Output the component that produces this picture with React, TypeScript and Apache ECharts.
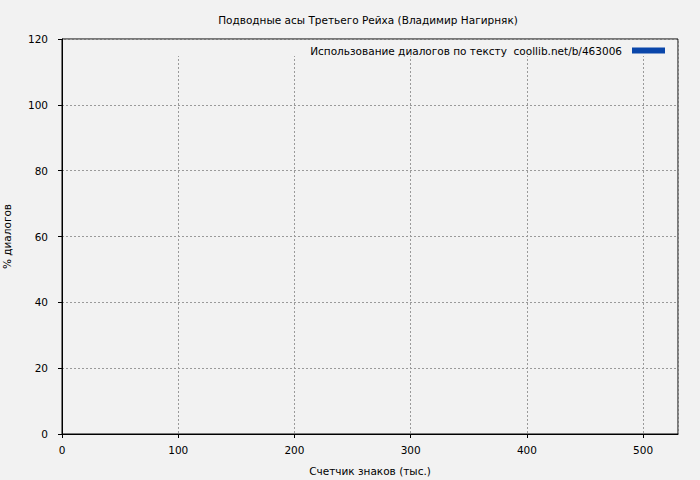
import React, { useEffect, useRef } from 'react';
import * as echarts from 'echarts';

const chartTitle = 'Подводные асы Третьего Рейха (Владимир Нагирняк)';
const seriesName = 'Использование диалогов по тексту  coollib.net/b/463006';
const xAxisName = 'Счетчик знаков (тыс.)';
const yAxisName = '% диалогов';

// x range (тыс. знаков) and y range (%)
const xRange = [0, 530];
const yRange = [0, 120];
// the reference plots no points at all
const dialogShare: [number, number][] = [];

const App: React.FC = () => {
  const chartRef = useRef<HTMLDivElement>(null);

  useEffect(() => {
    if (!chartRef.current) return;
    const chart = echarts.init(chartRef.current, undefined, { renderer: 'svg' });

    const font = 'DejaVu Sans';
    const fs = 10.5;
    const gridLine = { show: true, lineStyle: { color: '#9a9a9a', type: [2, 2] as number[], width: 1 } };

    const option: echarts.EChartsOption = {
      animation: false,
      backgroundColor: '#f2f2f2',
      textStyle: { fontFamily: font },
      title: {
        text: chartTitle,
        left: 363,
        top: 9,
        textAlign: 'center',
        textStyle: { fontSize: fs, fontWeight: 'normal', color: '#000', fontFamily: font }
      },
      legend: {
        right: 30,
        top: 40,
        align: 'right',
        icon: 'rect',
        itemWidth: 33,
        itemHeight: 6,
        textStyle: { fontSize: fs, color: '#000', fontFamily: font, padding: [0, 5, 0, 0] },
        data: [seriesName]
      },
      grid: {
        left: 62,
        right: 22,
        top: 39,
        bottom: 46,
        show: true,
        containLabel: false,
        outerBoundsMode: 'none',
        borderColor: '#000',
        borderWidth: 1,
        backgroundColor: 'transparent'
      } as any,
      graphic: [
        {
          // blank strip under the legend, the vertical grid starts below it
          type: 'rect',
          shape: { x: 63, y: 40, width: 614, height: 16 },
          style: { fill: '#f2f2f2' },
          z: 1
        }
      ],
      xAxis: {
        type: 'value',
        min: xRange[0],
        max: xRange[1],
        interval: 100,
        name: xAxisName,
        nameLocation: 'middle',
        nameGap: 31,
        nameTextStyle: { fontSize: fs, color: '#000', fontFamily: font },
        axisLine: { show: true, onZero: false, lineStyle: { color: '#000', width: 1 } },
        axisTick: { show: true, inside: false, length: 4, lineStyle: { color: '#000' } },
        axisLabel: { fontSize: fs, color: '#000', margin: 10, fontFamily: font, showMaxLabel: false },
        splitLine: gridLine
      },
      yAxis: {
        type: 'value',
        min: yRange[0],
        max: yRange[1],
        interval: 20,
        name: yAxisName,
        nameLocation: 'middle',
        nameGap: 50,
        nameTextStyle: { fontSize: fs, color: '#000', fontFamily: font },
        axisLine: { show: true, onZero: false, lineStyle: { color: '#000', width: 1 } },
        axisTick: { show: true, inside: false, length: 4, lineStyle: { color: '#000' } },
        axisLabel: { fontSize: fs, color: '#000', margin: 14, fontFamily: font },
        splitLine: gridLine
      },
      series: [
        {
          name: seriesName,
          type: 'line',
          data: dialogShare,
          showSymbol: false,
          itemStyle: { color: '#0a46aa' },
          lineStyle: { color: '#0a46aa', width: 2 },
          z: 3
        }
      ]
    };

    chart.setOption(option);
    return () => {
      chart.dispose();
    };
  }, []);

  return (
    <div style={{ position: 'fixed', left: 0, top: 0, width: 700, height: 480 }}>
      <div ref={chartRef} style={{ width: '700px', height: '480px' }} />
    </div>
  );
};

export default App;
